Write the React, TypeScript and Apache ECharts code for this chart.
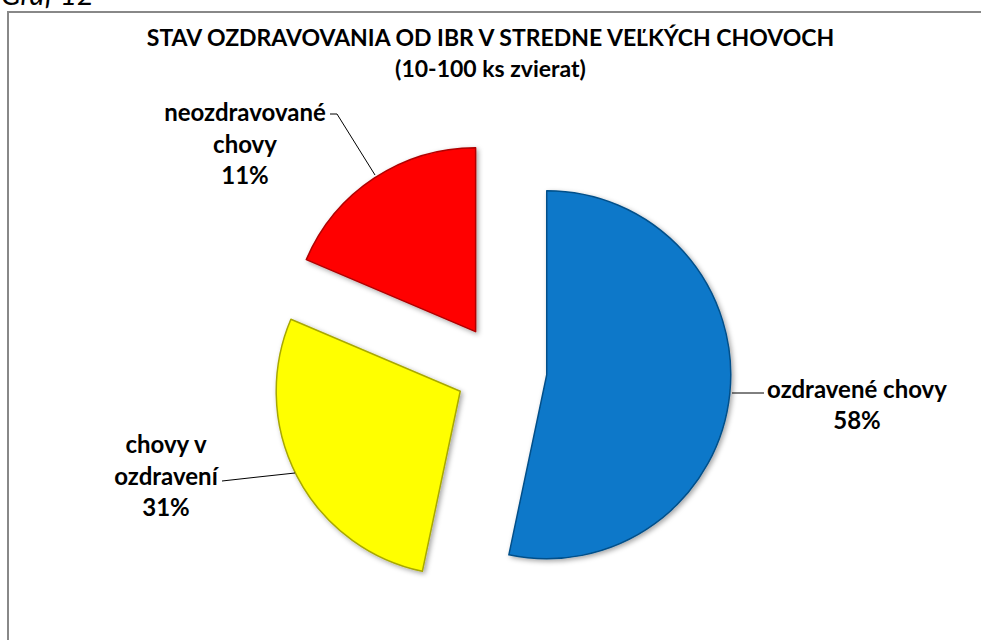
import React, { useEffect, useRef } from "react";
import * as echarts from "echarts";

const titleLines = ["STAV OZDRAVOVANIA OD IBR V STREDNE VEĽKÝCH CHOVOCH", "(10-100 ks zvierat)"];
const categories = ["ozdravené chovy", "chovy v ozdravení", "neozdravované chovy"];
const labelLines = [["ozdravené chovy"], ["chovy v", "ozdravení"], ["neozdravované", "chovy"]];
// slice sizes as drawn in the picture (share of the circle, %)
const sliceShares = [53.3, 28.1, 18.6];
// percentages printed on the labels
const labelPercents = [58, 31, 11];
const colors = ["#0A78C9", "#FFFF00", "#FF0000"];
const borderColors = ["#06508a", "#a8a800", "#b00000"];
const caption = "Graf 12";

export default function App() {
  const ref = useRef<HTMLDivElement>(null);
  useEffect(() => {
    if (!ref.current) return;
    const chart = echarts.init(ref.current, null, { renderer: "svg" });
    const font = "Lato, 'Open Sans', sans-serif";
    const labelPos: any[] = [
      { x: 857, y: 404, pts: [[732, 393], [748, 393], [764, 393]] },
      { x: 166, y: 475, pts: [[295, 473], [258, 477], [222, 481]] },
      { x: 245, y: 143, pts: [[375, 175], [337, 114], [330, 114]] },
    ];
    const labelGraphics: any[] = [];
    categories.forEach((_, i) => {
      const p = labelPos[i];
      labelGraphics.push({
        type: "polyline",
        shape: { points: p.pts },
        style: { stroke: "#000", lineWidth: 1, fill: "none" },
        silent: true,
        z: 10,
      });
      labelGraphics.push({
        type: "text",
        x: p.x,
        y: p.y,
        style: {
          text: [...labelLines[i], labelPercents[i] + "%"].join("\n"),
          fontFamily: font,
          fontWeight: "bold",
          fontSize: 24,
          lineHeight: 31.5,
          fill: "#000",
          align: "center",
          verticalAlign: "middle",
        },
        silent: true,
        z: 10,
      });
    });
    chart.setOption({
      animation: false,
      backgroundColor: "#ffffff",
      title: {
        text: titleLines.join("\n"),
        left: "center",
        top: 16,
        textStyle: {
          fontFamily: font,
          fontWeight: "bold",
          fontSize: 23,
          lineHeight: 31,
          color: "#000",
        },
      },
      graphic: [
        {
          type: "rect",
          shape: { x: 8, y: 12, width: 1000, height: 700 },
          style: { fill: "none", stroke: "#888888", lineWidth: 2 },
          silent: true,
        },
        {
          type: "text",
          x: 1,
          y: 8,
          style: {
            text: caption,
            fontFamily: font,
            fontStyle: "italic",
            fontSize: 29,
            fill: "#000",
            verticalAlign: "bottom",
          },
          silent: true,
        },
        ...labelGraphics,
      ],
      series: [
        {
          type: "pie",
          center: [501, 370],
          radius: 184,
          startAngle: 90,
          clockwise: true,
          selectedMode: "multiple",
          selectedOffset: 46,
          avoidLabelOverlap: false,
          data: categories.map((name, i) => ({
            name,
            value: sliceShares[i],
            selected: true,
            itemStyle: {
              color: colors[i],
              borderColor: borderColors[i],
              borderWidth: 1.5,
              shadowBlur: 5,
              shadowOffsetX: 2,
              shadowOffsetY: 2,
              shadowColor: "rgba(0,0,0,0.35)",
            },
          })),
          label: { show: false },
          labelLine: { show: false },
          emphasis: { disabled: true },
        },
      ],
    });
    return () => chart.dispose();
  }, []);
  return (
    <div
      ref={ref}
      style={{ position: "absolute", left: 0, top: 0, width: 981, height: 640 }}
    />
  );
}
